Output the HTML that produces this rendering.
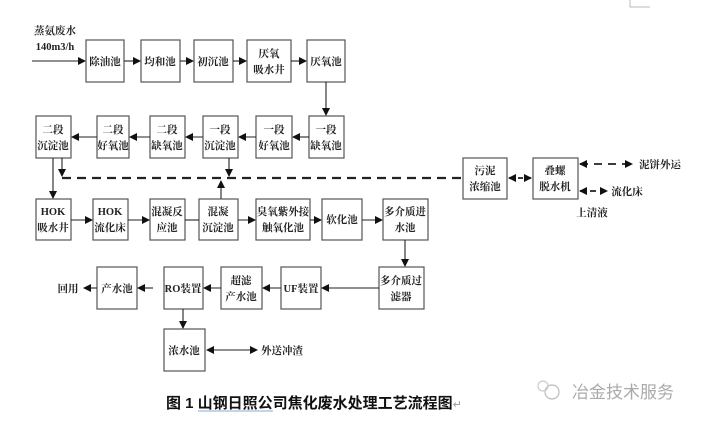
<!DOCTYPE html>
<html><head><meta charset="utf-8"><style>
html,body{margin:0;padding:0;background:#fff;}
svg{display:block;}
text{font-family:"Liberation Serif","Noto Serif CJK SC","Noto Sans CJK SC",serif;font-size:10.5px;font-weight:bold;fill:#222;text-anchor:middle;}
rect{fill:#fff;stroke:#555;stroke-width:1.2;}
line,path{stroke:#222;stroke-width:1.1;fill:none;}
.d{stroke-dasharray:9,6;stroke-width:2.2;}
</style></head><body>
<svg width="709" height="429" viewBox="0 0 709 429" xmlns="http://www.w3.org/2000/svg">
<defs>
<marker id="a" markerWidth="8" markerHeight="8" refX="7" refY="4" orient="auto-start-reverse" markerUnits="userSpaceOnUse"><path d="M0,0 L8,4 L0,8 z" style="fill:#111;stroke:none"/></marker>
</defs>
<path d="M630,0 L630,7 L650,7" style="stroke:#bbb;stroke-width:1"/>
<!-- input -->
<text x="55" y="34">蒸氨废水</text>
<text x="55" y="50">140m3/h</text>
<line x1="32" y1="61" x2="85" y2="61" marker-end="url(#a)"/>
<!-- row1 -->
<rect x="86" y="40" width="38" height="42"/><text x="105" y="65">除油池</text>
<rect x="141" y="40" width="39" height="42"/><text x="160" y="65">均和池</text>
<rect x="194" y="40" width="39" height="42"/><text x="213" y="65">初沉池</text>
<rect x="247" y="40" width="44" height="42"/><text x="269" y="57">厌氧</text><text x="269" y="73">吸水井</text>
<rect x="307" y="40" width="38" height="42"/><text x="326" y="65">厌氧池</text>
<line x1="124" y1="61" x2="140" y2="61" marker-end="url(#a)"/>
<line x1="180" y1="61" x2="193" y2="61" marker-end="url(#a)"/>
<line x1="233" y1="61" x2="246" y2="61" marker-end="url(#a)"/>
<line x1="291" y1="61" x2="306" y2="61" marker-end="url(#a)"/>
<line x1="326" y1="82" x2="326" y2="115" marker-end="url(#a)"/>
<!-- row2 -->
<rect x="36" y="116" width="35" height="42"/><text x="53" y="133">二段</text><text x="53" y="149">沉淀池</text>
<rect x="97" y="116" width="32" height="42"/><text x="113" y="133">二段</text><text x="113" y="149">好氧池</text>
<rect x="150" y="116" width="35" height="42"/><text x="167" y="133">二段</text><text x="167" y="149">缺氧池</text>
<rect x="203" y="116" width="35" height="42"/><text x="220" y="133">一段</text><text x="220" y="149">沉淀池</text>
<rect x="256" y="116" width="36" height="42"/><text x="274" y="133">一段</text><text x="274" y="149">好氧池</text>
<rect x="309" y="116" width="35" height="42"/><text x="326" y="133">一段</text><text x="326" y="149">缺氧池</text>
<line x1="309" y1="137" x2="293" y2="137" marker-end="url(#a)"/>
<line x1="256" y1="137" x2="239" y2="137" marker-end="url(#a)"/>
<line x1="203" y1="137" x2="186" y2="137" marker-end="url(#a)"/>
<line x1="150" y1="137" x2="130" y2="137" marker-end="url(#a)"/>
<line x1="97" y1="137" x2="72" y2="137" marker-end="url(#a)"/>
<!-- dashed sludge line -->
<line class="d" x1="62" y1="178" x2="462" y2="178"/>
<line x1="62" y1="158" x2="62" y2="176" marker-end="url(#a)"/>
<line x1="229" y1="158" x2="229" y2="176" marker-end="url(#a)"/>
<line x1="221" y1="199" x2="221" y2="181" marker-end="url(#a)"/>
<line x1="53" y1="158" x2="53" y2="198" marker-end="url(#a)"/>
<!-- sludge -->
<rect x="463" y="158" width="44" height="41"/><text x="485" y="174">污泥</text><text x="485" y="190">浓缩池</text>
<rect x="533" y="158" width="45" height="41"/><text x="555" y="174">叠螺</text><text x="555" y="190">脱水机</text>
<line x1="509" y1="178" x2="531" y2="178" marker-start="url(#a)" marker-end="url(#a)" style="stroke-dasharray:5,4;stroke-width:1.8"/>
<line x1="580" y1="164" x2="632" y2="164" marker-start="url(#a)" marker-end="url(#a)" style="stroke-dasharray:8,6;stroke-width:1.8"/>
<text x="660" y="168">泥饼外运</text>
<line x1="580" y1="191" x2="607" y2="191" marker-start="url(#a)" marker-end="url(#a)" style="stroke-dasharray:6,4;stroke-width:1.8"/>
<text x="627" y="195">流化床</text>
<text x="592" y="216">上清液</text>
<!-- row3 -->
<rect x="36" y="199" width="35" height="41"/><text x="53" y="215">HOK</text><text x="53" y="231">吸水井</text>
<rect x="93" y="199" width="35" height="41"/><text x="110" y="215">HOK</text><text x="110" y="231">流化床</text>
<rect x="150" y="199" width="35" height="41"/><text x="167" y="215">混凝反</text><text x="167" y="231">应池</text>
<rect x="199" y="199" width="39" height="41"/><text x="218" y="215">混凝</text><text x="218" y="231">沉淀池</text>
<rect x="256" y="199" width="54" height="41"/><text x="283" y="215">臭氧紫外接</text><text x="283" y="231">触氧化池</text>
<rect x="322" y="199" width="40" height="41"/><text x="342" y="223">软化池</text>
<rect x="383" y="199" width="45" height="41"/><text x="405" y="215">多介质进</text><text x="405" y="231">水池</text>
<line x1="71" y1="220" x2="92" y2="220" marker-end="url(#a)"/>
<line x1="128" y1="220" x2="149" y2="220" marker-end="url(#a)"/>
<line x1="185" y1="220" x2="199" y2="220"/>
<line x1="238" y1="220" x2="255" y2="220" marker-end="url(#a)"/>
<line x1="310" y1="220" x2="321" y2="220" marker-end="url(#a)"/>
<line x1="362" y1="220" x2="382" y2="220" marker-end="url(#a)"/>
<line x1="405" y1="240" x2="405" y2="266" marker-end="url(#a)"/>
<!-- row4 -->
<rect x="379" y="267" width="45" height="42"/><text x="401" y="284">多介质过</text><text x="401" y="300">滤器</text>
<rect x="281" y="267" width="40" height="42"/><text x="301" y="292">UF装置</text>
<rect x="221" y="267" width="41" height="42"/><text x="241" y="284">超滤</text><text x="241" y="300">产水池</text>
<rect x="164" y="267" width="39" height="42"/><text x="183" y="292">RO装置</text>
<rect x="97" y="267" width="40" height="42"/><text x="117" y="292">产水池</text>
<line x1="379" y1="288" x2="322" y2="288" marker-end="url(#a)"/>
<line x1="281" y1="288" x2="263" y2="288" marker-end="url(#a)"/>
<line x1="221" y1="288" x2="204" y2="288" marker-end="url(#a)"/>
<line x1="153" y1="288" x2="138" y2="288" marker-end="url(#a)"/>
<line x1="97" y1="288" x2="84" y2="288" marker-end="url(#a)"/>
<text x="68" y="292">回用</text>
<line x1="183" y1="309" x2="183" y2="328" marker-end="url(#a)"/>
<rect x="164" y="329" width="41" height="42"/><text x="184" y="354">浓水池</text>
<line x1="207" y1="350" x2="257" y2="350" marker-start="url(#a)" marker-end="url(#a)"/>
<text x="282" y="354">外送冲渣</text>
<!-- caption -->
<text x="166" y="408" style="text-anchor:start;font-family:'Liberation Sans','Noto Sans CJK SC',sans-serif;font-size:15px;font-weight:bold;fill:#111">图 1  山钢日照公司焦化废水处理工艺流程图<tspan style="font-weight:normal;fill:#999;font-size:11px">↵</tspan></text>
<line x1="198" y1="411" x2="273" y2="411" style="stroke:#8aa8d8;stroke-width:1"/>
<!-- watermark -->
<circle cx="552" cy="392" r="7" style="fill:none;stroke:#bbb;stroke-width:1.2"/>
<circle cx="543" cy="386" r="5" style="fill:none;stroke:#ccc;stroke-width:1.2"/>
<text x="572" y="398" style="text-anchor:start;font-family:'Noto Sans CJK SC',sans-serif;font-size:17px;font-weight:normal;fill:#aaa">冶金技术服务</text>
</svg>
</body></html>
